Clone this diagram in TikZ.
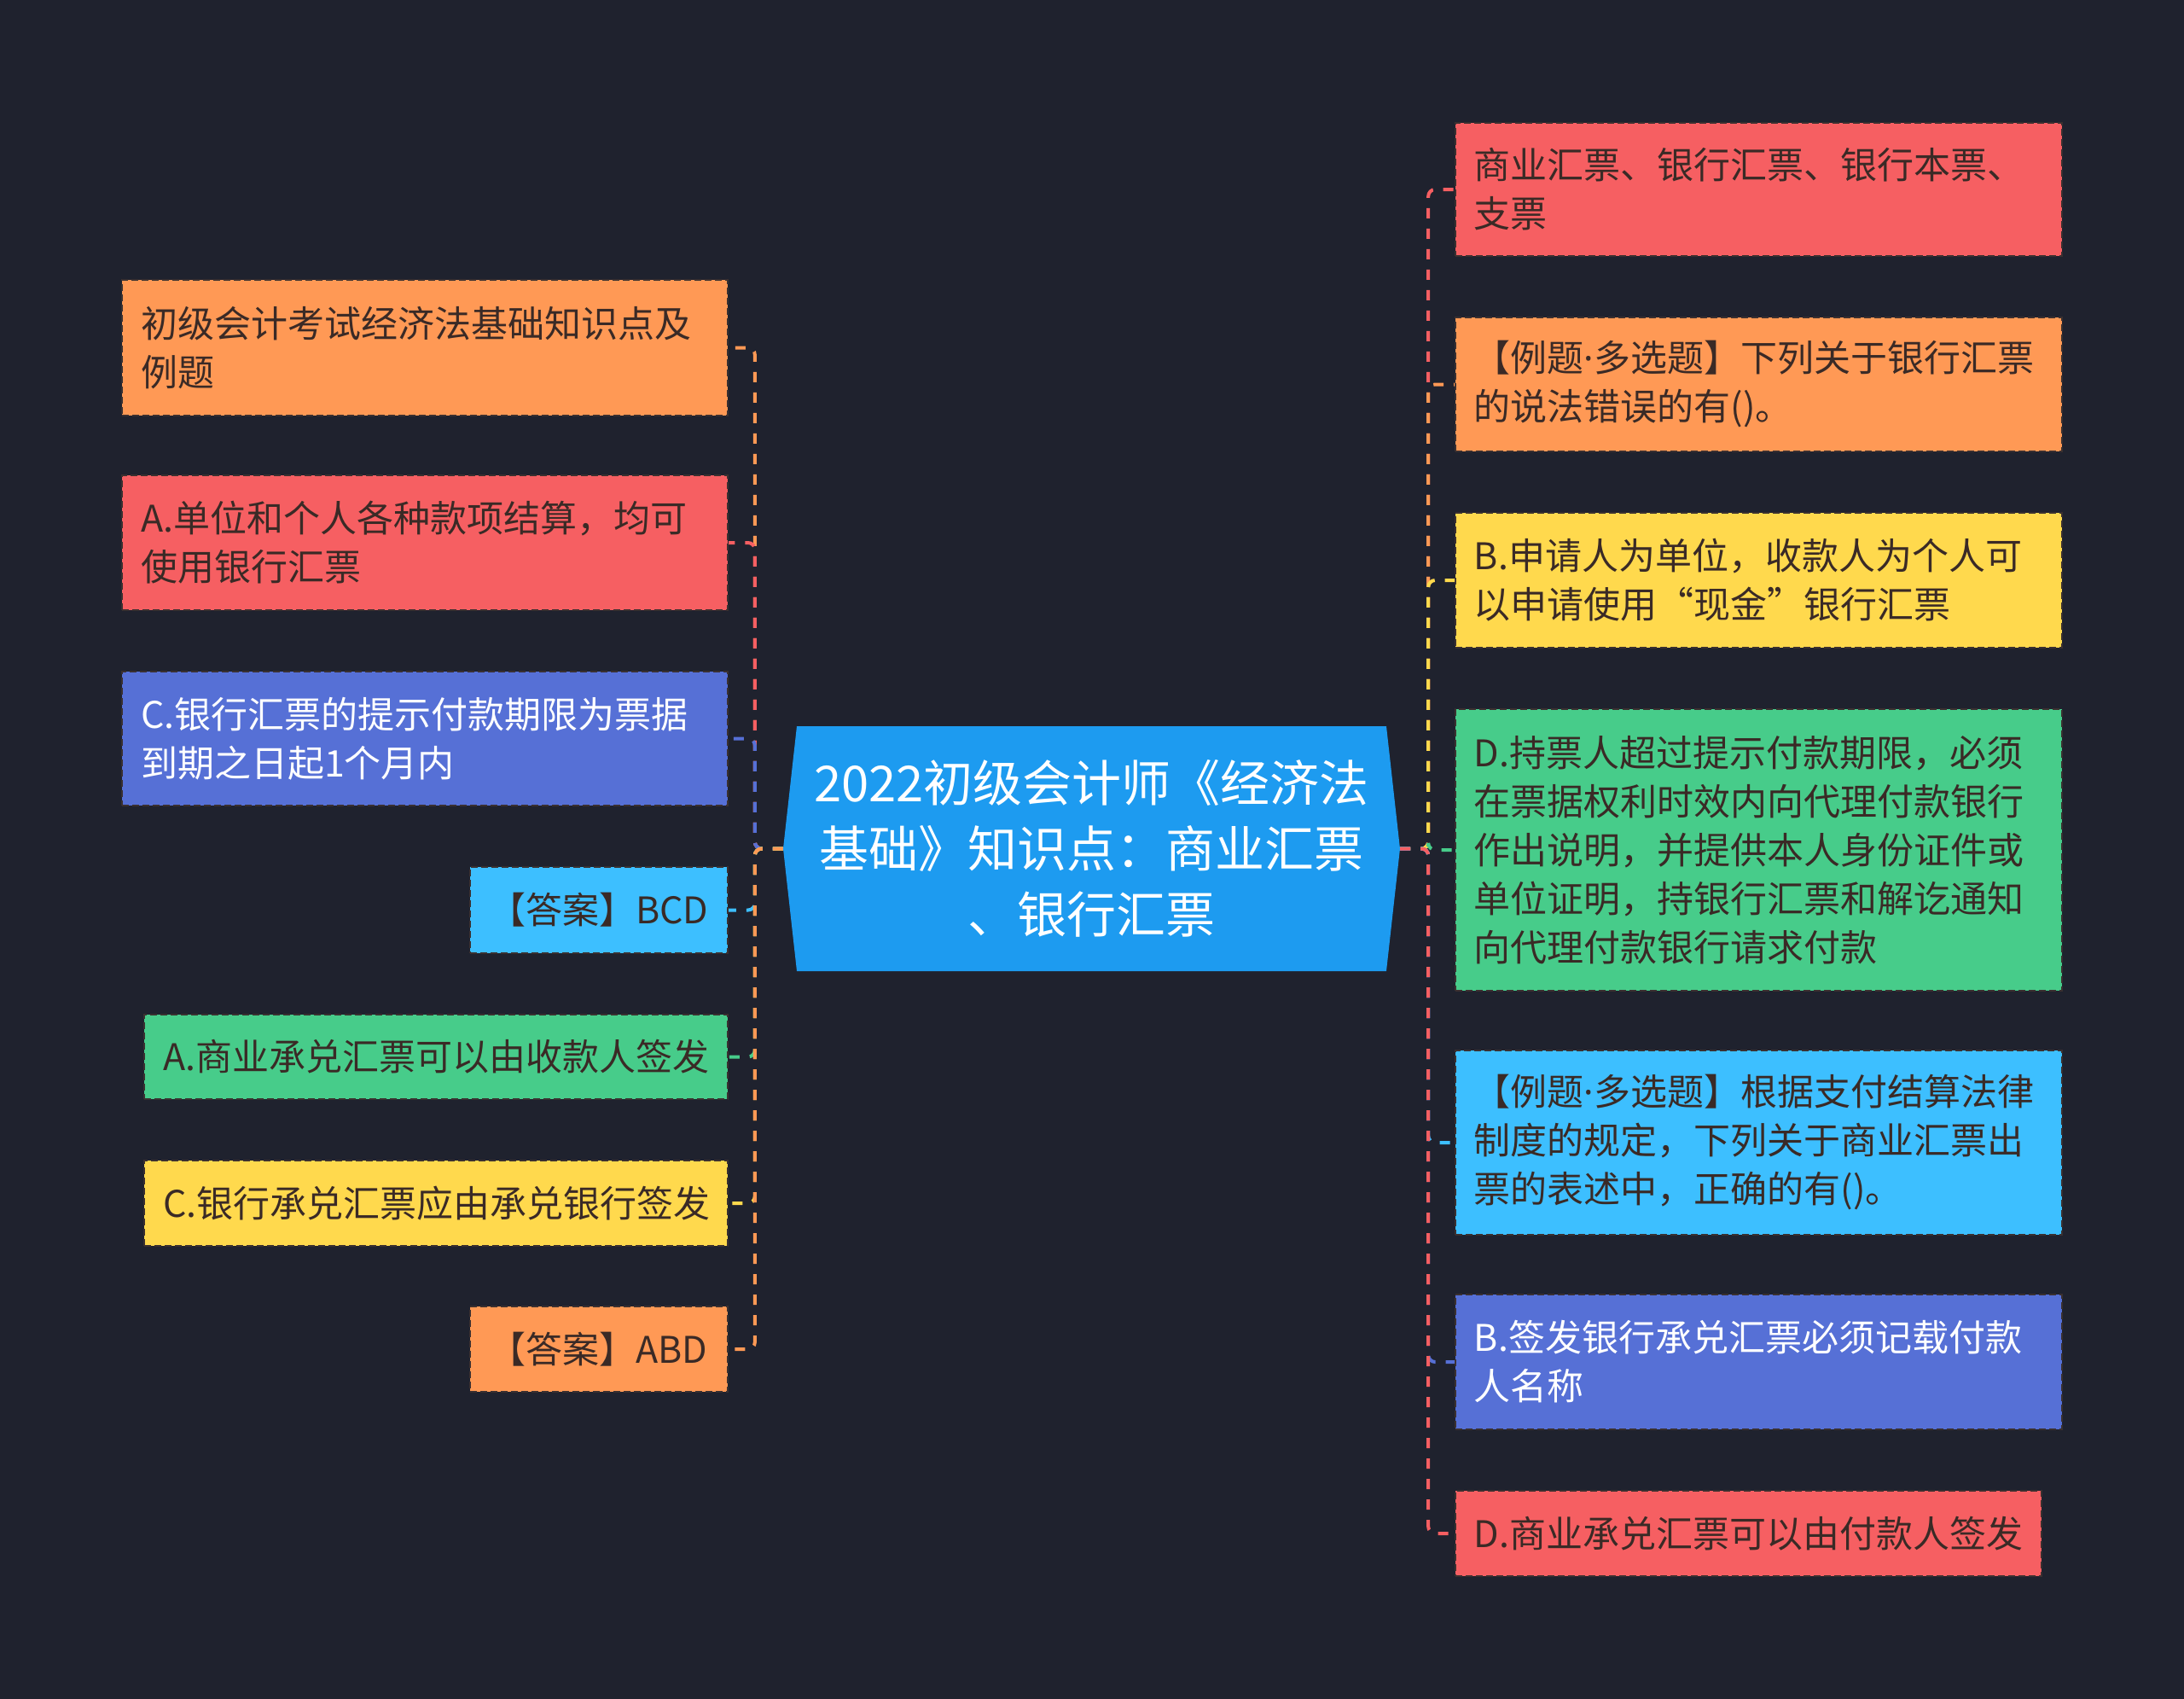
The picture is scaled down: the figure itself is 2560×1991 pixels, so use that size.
\documentclass[tikz,border=0pt]{standalone}
\usepackage{fontspec}
\setmainfont{Noto Sans CJK SC}
\newfontfamily\latinfont{Noto Sans}
\newcommand{\mdot}{{\latinfont ·}}
\definecolor{bgC}{HTML}{1F222E}
\definecolor{orangeC}{HTML}{FF9955}
\definecolor{redC}{HTML}{F65F62}
\definecolor{indigoC}{HTML}{5670D6}
\definecolor{lblueC}{HTML}{3DBFFF}
\definecolor{greenC}{HTML}{47CC8A}
\definecolor{yellowC}{HTML}{FFD94D}
\definecolor{centerC}{HTML}{1D9BF0}
\definecolor{txtC}{HTML}{3A2A26}
\definecolor{edgeC}{HTML}{3A3030}
\tikzset{
  box/.style={draw=edgeC, line width=1.8pt, dash pattern=on 8pt off 4pt,
    rectangle, inner xsep=22pt, inner ysep=0pt, align=left, text=txtC,
    font=\fontsize{43}{57}\selectfont},
  lbox/.style={box, anchor=east},
  rbox/.style={box, anchor=west},
  conn/.style={line width=4pt, dash pattern=on 12pt off 12pt, rounded corners=8pt},
}
\begin{document}
\begin{tikzpicture}[x=1pt,y=-1pt]
\fill[bgC] (0,0) rectangle (2560,1991);
\useasboundingbox (0,0) rectangle (2560,1991);
% center
\fill[centerC] (918,994.5) -- (934,851) -- (1625,851) -- (1641,994.5) -- (1625,1138) -- (934,1138) -- cycle;
\node[minimum width=723pt, minimum height=287pt, inner sep=0pt, align=center, text=white,
  font=\fontsize{58}{77}\selectfont] (c) at (1279.5,994.5)
  {2022初级会计师《经济法\\基础》知识点：商业汇票\\、银行汇票};
% left nodes
\node[lbox, fill=orangeC, text width=666pt, minimum height=159pt] (L1) at (854,407.5) {初级会计考试经济法基础知识点及\\例题};
\node[lbox, fill=redC, text width=666pt, minimum height=158pt] (L2) at (854,636) {A.单位和个人各种款项结算，均可\\使用银行汇票};
\node[lbox, fill=indigoC, text=white, text width=666pt, minimum height=157pt] (L3) at (854,865.5) {C.银行汇票的提示付款期限为票据\\到期之日起1个月内};
\node[lbox, fill=lblueC, text width=258pt, minimum height=101pt] (L4) at (854,1066.5) {【答案】BCD};
\node[lbox, fill=greenC, text width=640pt, minimum height=99pt] (L5) at (854,1238.5) {A.商业承兑汇票可以由收款人签发};
\node[lbox, fill=yellowC, text width=640pt, minimum height=100pt] (L6) at (854,1410) {C.银行承兑汇票应由承兑银行签发};
\node[lbox, fill=orangeC, text width=258pt, minimum height=100pt] (L7) at (854,1581) {【答案】ABD};
% right nodes
\node[rbox, fill=redC, text width=667pt, minimum height=156pt] (R1) at (1705,222) {商业汇票、银行汇票、银行本票、\\支票};
\node[rbox, fill=orangeC, text width=667pt, minimum height=157pt] (R2) at (1705,450.5) {【例题\mdot 多选题】下列关于银行汇票\\的说法错误的有()。};
\node[rbox, fill=yellowC, text width=667pt, minimum height=158pt] (R3) at (1705,680) {B.申请人为单位，收款人为个人可\\以申请使用“现金”银行汇票};
\node[rbox, fill=greenC, text width=667pt, minimum height=330pt] (R4) at (1705,996) {D.持票人超过提示付款期限，必须\\在票据权利时效内向代理付款银行\\作出说明，并提供本人身份证件或\\单位证明，持银行汇票和解讫通知\\向代理付款银行请求付款};
\node[rbox, fill=lblueC, text width=667pt, minimum height=216pt] (R5) at (1705,1339) {【例题\mdot 多选题】根据支付结算法律\\制度的规定，下列关于商业汇票出\\票的表述中，正确的有()。};
\node[rbox, fill=indigoC, text=white, text width=667pt, minimum height=158pt] (R6) at (1705,1596) {B.签发银行承兑汇票必须记载付款\\人名称};
\node[rbox, fill=redC, text width=643pt, minimum height=100pt] (R7) at (1705,1797) {D.商业承兑汇票可以由付款人签发};
% connectors left
\draw[conn, orangeC] (c.west) -- ++(-33,0) |- (L1.east);
\draw[conn, redC] (c.west) -- ++(-33,0) |- (L2.east);
\draw[conn, indigoC] (c.west) -- ++(-33,0) |- (L3.east);
\draw[conn, lblueC] (c.west) -- ++(-33,0) |- (L4.east);
\draw[conn, greenC] (c.west) -- ++(-33,0) |- (L5.east);
\draw[conn, yellowC] (c.west) -- ++(-33,0) |- (L6.east);
\draw[conn, orangeC] (c.west) -- ++(-33,0) |- (L7.east);
% connectors right
\draw[conn, redC] (c.east) -- ++(33,0) |- (R1.west);
\draw[conn, orangeC] (c.east) -- ++(33,0) |- (R2.west);
\draw[conn, yellowC] (c.east) -- ++(33,0) |- (R3.west);
\draw[conn, greenC] (c.east) -- ++(33,0) |- (R4.west);
\draw[conn, lblueC] (c.east) -- ++(33,0) |- (R5.west);
\draw[conn, indigoC] (c.east) -- ++(33,0) |- (R6.west);
\draw[conn, redC] (c.east) -- ++(33,0) |- (R7.west);
\end{tikzpicture}
\end{document}
